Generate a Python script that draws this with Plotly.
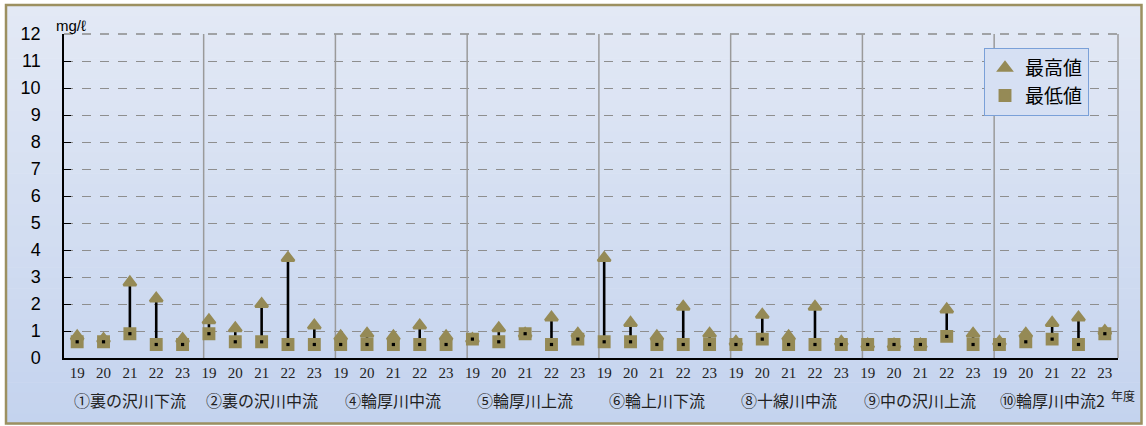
import plotly.graph_objects as go

# ---------------- data ----------------
years = ["19", "20", "21", "22", "23"]
sites = ["①裏の沢川下流", "②裏の沢川中流", "④輪厚川中流", "⑤輪厚川上流",
         "⑥輪上川下流", "⑧十線川中流", "⑨中の沢川上流", "⑩輪厚川中流2"]
max_vals = [0.8, 0.7, 2.8, 2.2, 0.7,
            1.4, 1.1, 2.0, 3.7, 1.2,
            0.8, 0.9, 0.8, 1.2, 0.8,
            0.7, 1.1, 0.9, 1.5, 0.9,
            3.7, 1.3, 0.8, 1.9, 0.9,
            0.6, 1.6, 0.8, 1.9, 0.6,
            0.5, 0.5, 0.5, 1.8, 0.9,
            0.6, 0.9, 1.3, 1.5, 1.0]
min_vals = [0.6, 0.6, 0.9, 0.5, 0.5,
            0.9, 0.6, 0.6, 0.5, 0.5,
            0.5, 0.5, 0.5, 0.5, 0.5,
            0.7, 0.6, 0.9, 0.5, 0.7,
            0.6, 0.6, 0.5, 0.5, 0.5,
            0.5, 0.7, 0.5, 0.5, 0.5,
            0.5, 0.5, 0.5, 0.8, 0.5,
            0.5, 0.6, 0.7, 0.5, 0.9]

# ---------------- geometry helpers ----------------
W, H = 1146, 426
ML, MR, MT, MB = 64, 28, 34, 68
PW, PH = W - ML - MR, H - MT - MB


def px_x(p):
    return (p - ML) / PW


def px_y(p):
    return (H - MB - p) / PH


n = len(max_vals)
xs = list(range(n))
ticktext = [y for _ in sites for y in years]

OLIVE = "#958a56"

# high-low lines
lx, ly = [], []
for i in xs:
    lx += [i, i, None]
    ly += [min_vals[i], max_vals[i], None]

fig = go.Figure()
fig.add_trace(go.Scatter(x=lx, y=ly, mode="lines", showlegend=False,
                         line=dict(color="black", width=2.6), hoverinfo="skip"))
fig.add_trace(go.Scatter(x=xs, y=max_vals, mode="markers", name="最高値",
                         marker=dict(symbol="triangle-up", size=11, color=OLIVE,
                                     line=dict(color=OLIVE, width=2.5))))
fig.add_trace(go.Scatter(x=xs, y=min_vals, mode="markers", name="最低値",
                         marker=dict(symbol="square", size=10.5, color=OLIVE,
                                     line=dict(color=OLIVE, width=2.4))))
fig.add_trace(go.Scatter(x=xs, y=min_vals, mode="markers", showlegend=False,
                         marker=dict(symbol="square", size=3.2, color="black",
                                     line=dict(width=0)), hoverinfo="skip"))

shapes = []
# background gradient inside the frame
top_c = (227, 233, 245)
bot_c = (196, 211, 238)
y_top, y_bot = 6, 424
N = 40
for k in range(N):
    t = k / (N - 1)
    c = tuple(int(round(top_c[j] + (bot_c[j] - top_c[j]) * t)) for j in range(3))
    ya = y_top + (y_bot - y_top) * k / N
    yb = y_top + (y_bot - y_top) * (k + 1) / N + 0.6
    shapes.append(dict(type="rect", xref="paper", yref="paper", layer="below",
                       x0=px_x(7), x1=px_x(1142), y0=px_y(yb), y1=px_y(ya),
                       fillcolor="rgb(%d,%d,%d)" % c, line=dict(width=0)))
# outer frame
shapes.append(dict(type="rect", xref="paper", yref="paper", layer="above",
                   x0=px_x(6), x1=px_x(1141.5), y0=px_y(423.5), y1=px_y(5),
                   fillcolor="rgba(0,0,0,0)", line=dict(color="#9c9060", width=2.5)))
# top dashed grid line (at the range edge)
shapes.append(dict(type="line", xref="paper", yref="paper", layer="between",
                   x0=0, x1=1, y0=1, y1=1,
                   line=dict(color="#8a8a8a", width=1.5, dash="dash")))
# group separators
for g in range(1, len(sites)):
    shapes.append(dict(type="line", xref="x", yref="y", layer="between",
                       x0=5 * g - 0.2, x1=5 * g - 0.2, y0=0, y1=12,
                       line=dict(color="#9a9a9a", width=1.5)))
# right edge of plot area
shapes.append(dict(type="line", xref="paper", yref="paper", layer="between",
                   x0=1, x1=1, y0=0, y1=1, line=dict(color="#9a9a9a", width=1.5)))

annotations = []
for g, s in enumerate(sites):
    annotations.append(dict(x=5 * g + 2, y=0, xref="x", yref="paper", text=s,
                            showarrow=False, yanchor="middle", yshift=-42,
                            font=dict(family="Noto Sans CJK JP", size=16, color="#222")))
annotations.append(dict(x=px_x(71), y=1, xref="paper", yref="paper", text="mg/ℓ",
                        showarrow=False, xanchor="center", yanchor="middle", yshift=9,
                        font=dict(family="Liberation Sans", size=15, color="black")))
annotations.append(dict(x=px_x(1109), y=0, xref="paper", yref="paper", text="年度",
                        showarrow=False, xanchor="left", yanchor="middle", yshift=-37,
                        font=dict(family="Noto Sans CJK JP", size=12, color="#222")))

fig.update_layout(
    width=W, height=H, autosize=False,
    margin=dict(l=ML, r=MR, t=MT, b=MB, autoexpand=False),
    paper_bgcolor="white", plot_bgcolor="rgba(0,0,0,0)",
    shapes=shapes, annotations=annotations,
    showlegend=True,
    legend=dict(xref="container", yref="container", x=984 / W, y=1 - 48 / H,
                xanchor="left", yanchor="top",
                bgcolor="rgba(214,224,243,1)", bordercolor="#7aa0d8", borderwidth=1,
                itemwidth=30,
                font=dict(family="Noto Sans CJK JP", size=19, color="black")),
    xaxis=dict(range=[-0.5, n - 0.5], tickmode="array", tickvals=xs, ticktext=ticktext,
               showgrid=False, zeroline=False, showline=True, linecolor="black",
               linewidth=1.5, ticks="",
               tickfont=dict(family="Liberation Serif", size=15, color="#222")),
    yaxis=dict(range=[0, 12], dtick=1, tick0=0, showgrid=True, gridcolor="#8e8e8e",
               griddash="dash", gridwidth=1, zeroline=False, showline=True,
               linecolor="black", linewidth=1.5, ticks="inside", ticklen=7,
               tickcolor="black", ticklabelstandoff=18,
               tickfont=dict(family="Liberation Sans", size=18, color="black")),
)

fig.write_html("out.html", config={"displayModeBar": False},
               post_script="document.body.style.margin='0px';")
